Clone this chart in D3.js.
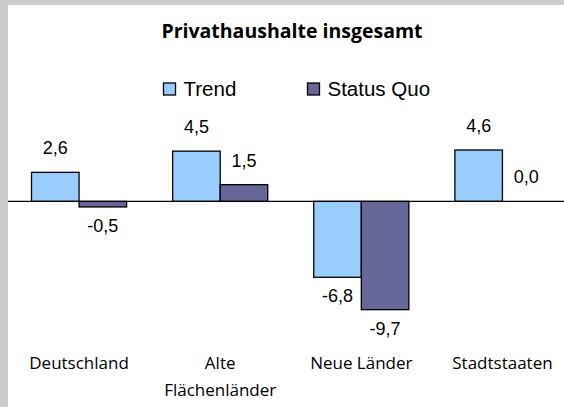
<!DOCTYPE html>
<html>
<head>
<meta charset="utf-8">
<script src="https://cdn.jsdelivr.net/npm/d3@7"></script>
<style>
	body { margin: 0; background: #cccccc; }
	svg { display: block; }
</style>
</head>
<body>
<svg id="chart" width="564" height="407"></svg>
<script>
// chart values
const title = 'Privathaushalte insgesamt';
const categories = ['Deutschland', 'Alte Flächenländer', 'Neue Länder', 'Stadtstaaten'];
const categoryLines = [['Deutschland'], ['Alte', 'Flächenländer'], ['Neue Länder'], ['Stadtstaaten']];
const seriesNames = ['Trend', 'Status Quo'];
const trendValues = [2.6, 4.5, -6.8, 4.6];
const statusQuoValues = [-0.5, 1.5, -9.7, 0.0];

const colors = ['#99ccff', '#666699'];
const W = 564, H = 407;

const svg = d3.select('#chart');

// white chart panel on the grey page
svg.append('rect')
	.attr('x', 8).attr('y', 5)
	.attr('width', W - 8).attr('height', H - 5)
	.attr('fill', '#ffffff');

// scales
const x = d3.scaleBand()
	.domain(categories)
	.range([8.5, 573])
	.paddingInner(0.326)
	.paddingOuter(0.163);

const xs = d3.scaleBand()
	.domain(seriesNames)
	.range([0, x.bandwidth()]);

const y = d3.scaleLinear()
	.domain([-10, 6])
	.range([313, 134.4]);

// german decimal comma, plain hyphen for negatives
const fmt = v => d3.format('.1f')(v).replace('.', ',').replace('\u2212', '-');

const series = seriesNames.map((name, si) => ({
	name: name,
	color: colors[si],
	values: (si === 0 ? trendValues : statusQuoValues).map((v, i) => ({cat: categories[i], v: v}))
}));

// title
svg.append('text')
	.attr('x', 292)
	.attr('y', 38)
	.attr('text-anchor', 'middle')
	.style('font-family', '"Open Sans", sans-serif')
	.style('font-weight', 'bold')
	.style('font-size', '19.5px')
	.attr('fill', '#000')
	.text(title);

// legend
const legendX = [163.5, 307.5];
const gLegend = svg.append('g').attr('class', 'g_legend');
series.forEach((s, i) => {
	gLegend.append('rect')
		.attr('x', legendX[i]).attr('y', 83)
		.attr('width', 12).attr('height', 12)
		.attr('fill', s.color)
		.attr('stroke', '#000')
		.attr('stroke-width', 1.3);
	gLegend.append('text')
		.attr('x', legendX[i] + 20)
		.attr('y', 96)
		.style('font-family', '"Liberation Sans", Arial, sans-serif')
		.style('font-size', '20.5px')
		.attr('fill', '#000')
		.text(s.name);
});

// bars
const gSeries = svg.selectAll('.g_series')
	.data(series).enter()
	.append('g')
	.attr('class', 'g_series');

gSeries.each(function(s) {
	const g = d3.select(this);
	g.selectAll('.bar')
		.data(s.values.filter(d => d.v !== 0)).enter()
		.append('rect')
		.attr('class', 'bar')
		.attr('x', d => x(d.cat) + xs(s.name))
		.attr('y', d => y(Math.max(0, d.v)))
		.attr('width', xs.bandwidth())
		.attr('height', d => Math.abs(y(d.v) - y(0)))
		.attr('fill', s.color)
		.attr('stroke', '#000')
		.attr('stroke-width', 1.3);

	// value labels
	g.selectAll('.val')
		.data(s.values).enter()
		.append('text')
		.attr('class', 'val')
		.attr('x', d => x(d.cat) + xs(s.name) + xs.bandwidth() / 2)
		.attr('y', d => d.v >= 0 ? y(d.v) - 18 : y(d.v) + 25)
		.attr('text-anchor', 'middle')
		.style('font-family', '"Liberation Sans", Arial, sans-serif')
		.style('font-size', '18px')
		.attr('fill', '#000')
		.text(d => fmt(d.v));
});

// zero line
svg.append('line')
	.attr('x1', 8).attr('x2', W)
	.attr('y1', y(0)).attr('y2', y(0))
	.attr('stroke', '#000')
	.attr('stroke-width', 1.3);

// category labels
const gCats = svg.selectAll('.cat_label')
	.data(categories).enter()
	.append('text')
	.attr('class', 'cat_label')
	.attr('x', d => x(d) + x.bandwidth() / 2)
	.attr('y', 369)
	.attr('text-anchor', 'middle')
	.style('font-family', '"Open Sans", sans-serif')
	.style('font-size', '17px')
	.attr('fill', '#000');

gCats.selectAll('tspan')
	.data((d, i) => categoryLines[i]).enter()
	.append('tspan')
	.attr('x', function() { const c = d3.select(this.parentNode).datum(); return x(c) + x.bandwidth() / 2; })
	.attr('dy', (d, i) => i === 0 ? 0 : 27)
	.text(d => d);
</script>
</body>
</html>
